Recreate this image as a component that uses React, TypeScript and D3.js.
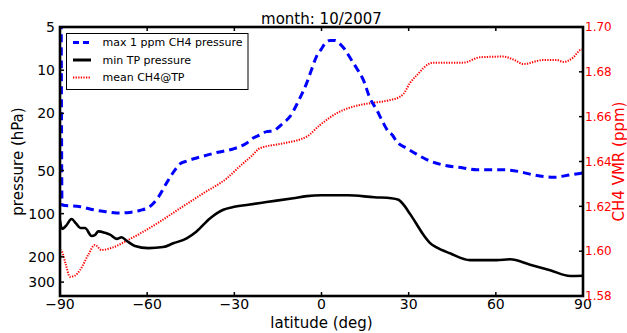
import React from "react";
import * as d3 from "d3";

const title = "month: 10/2007";
const xTicks = [-90, -60, -30, 0, 30, 60, 90];
const pTicks = [5, 10, 20, 50, 100, 200, 300];
const cTicks = [1.58, 1.6, 1.62, 1.64, 1.66, 1.68, 1.7];

const latMax1ppm = [-89.6, -89.3, -83, -78.5, -74, -70.5, -66, -62.5, -59, -56.2, -53.3, -50.4, -48.7, -46.4, -41.8, -36, -30.4, -28.1, -25.8, -23.5, -21.2, -18.9, -16.6, -14.3, -12.5, -10.9, -8, -5.1, -3.5, -1.7, 0, 1.2, 3, 4.6, 6.5, 8.1, 10, 12.1, 14.4, 16.7, 19, 21.3, 23, 24.5, 25.9, 29.3, 32.7, 36.2, 41.9, 48.8, 53.4, 62.6, 68.3, 72.9, 79.8, 85.5, 90];
const pMax1ppm = [3, 87, 89.5, 94, 97, 99, 98, 95, 89, 77, 61, 49.5, 45, 43, 40.3, 37.5, 35.4, 34.1, 32.3, 29.7, 28.3, 26.8, 26.5, 24.5, 22.8, 21.1, 16.5, 12.3, 10, 8, 7.1, 6.5, 6.2, 6.2, 6.6, 7.2, 8.3, 9.7, 11.7, 15.7, 18.9, 23.4, 26.8, 28.5, 31.5, 35, 38.5, 42, 45.8, 48, 49.5, 49.5, 51, 53.7, 55.8, 53.7, 52];

const latMinTP = [-90, -89.3, -88, -86, -84.5, -83, -81.4, -79.1, -78, -76.8, -74.5, -72.8, -70.5, -68.8, -67, -64.2, -59.6, -54.5, -51, -46.4, -43, -38.4, -33.8, -30.4, -25.8, -18.9, -9.7, -5.1, 0, 9, 18.2, 24, 26.5, 28.5, 30.4, 32.7, 35, 37.3, 39.6, 44.2, 51.1, 60.3, 64.9, 71.8, 78.7, 85.6, 90];
const pMinTP = [112, 128, 122, 109, 117, 126, 126, 143, 141, 133, 136, 140, 150, 146, 155, 168, 174, 171, 161, 148.5, 133, 108, 94, 90, 87, 83, 78, 75.5, 74.5, 74.5, 76.9, 78, 80, 88, 100, 118, 140, 160, 172, 189, 211, 211, 208, 227, 248, 272, 271];

const latCH4 = [-90, -89.4, -88, -86.6, -85, -83.1, -80.3, -78, -75.7, -73.5, -71.7, -67, -61.3, -55.6, -48.7, -40.7, -32.6, -28, -24, -21.2, -13.2, -5.1, -0.5, 5.2, 10.9, 16.7, 23.6, 27, 28.1, 30.4, 33.9, 35, 38.5, 48.8, 54.6, 62.6, 66, 69.5, 76.4, 80.9, 83.3, 86.7, 89, 90];
const vCH4 = [1.6005, 1.6, 1.594, 1.5886, 1.589, 1.5916, 1.5983, 1.6028, 1.6005, 1.601, 1.6017, 1.6047, 1.6087, 1.6132, 1.6191, 1.6258, 1.6325, 1.638, 1.6425, 1.6459, 1.6481, 1.6511, 1.6563, 1.6615, 1.6645, 1.666, 1.6674, 1.6689, 1.67, 1.6749, 1.68, 1.6816, 1.6841, 1.6841, 1.6865, 1.6868, 1.6855, 1.6835, 1.6853, 1.6853, 1.6844, 1.6865, 1.6897, 1.69];

const legendLabels = ["max 1 ppm CH4 pressure", "min TP pressure", "mean CH4@TP"];

const FONT = "'DejaVu Sans', sans-serif";

export default function App() {
  const L = 60, R = 583, T = 27, B = 296;
  const x = d3.scaleLinear().domain([-90, 90]).range([L, R]);
  const yP = d3.scaleLog().domain([5, 375]).range([T, B]);
  const yC = d3.scaleLinear().domain([1.58, 1.7]).range([B, T]);

  const lineP = d3.line<[number, number]>().x(d => x(d[0])).y(d => yP(d[1])).curve(d3.curveMonotoneX);
  const lineC = d3.line<[number, number]>().x(d => x(d[0])).y(d => yC(d[1])).curve(d3.curveMonotoneX);

  const blue = lineP(latMax1ppm.map((l, i) => [l, pMax1ppm[i]] as [number, number])) || "";
  const black = lineP(latMinTP.map((l, i) => [l, pMinTP[i]] as [number, number])) || "";
  const red = lineC(latCH4.map((l, i) => [l, vCH4[i]] as [number, number])) || "";

  const legendStyles = [
    { stroke: "#0000ff", width: 3, dash: "6,4" },
    { stroke: "#000000", width: 3, dash: undefined },
    { stroke: "#ff0000", width: 2, dash: "1.3,1.3" },
  ];

  return (
    <svg width={627} height={333} style={{ position: "fixed", left: 0, top: 0, display: "block", background: "#fff" }} fontFamily={FONT}>
      <defs>
        <clipPath id="plot">
          <rect x={L} y={T} width={R - L} height={B - T} />
        </clipPath>
      </defs>
      <rect x={0} y={0} width={627} height={333} fill="#fff" />
      <g clipPath="url(#plot)">
        <path d={red} fill="none" stroke="#ff0000" strokeWidth={2} strokeDasharray="1.3,1.3" />
        <path d={blue} fill="none" stroke="#0000ff" strokeWidth={3} strokeDasharray="8,5" />
        <path d={black} fill="none" stroke="#000" strokeWidth={2.6} strokeLinejoin="round" />
      </g>
      {xTicks.map(t => (
        <g key={"x" + t}>
          <line x1={x(t)} x2={x(t)} y1={B} y2={B - 4} stroke="#000" strokeWidth={1.5} />
          <line x1={x(t)} x2={x(t)} y1={T} y2={T + 4} stroke="#000" strokeWidth={1.5} />
          <text x={x(t)} y={309} fontSize={14} textAnchor="middle" fill="#000">
            {t < 0 ? "\u2212" + Math.abs(t) : String(t)}
          </text>
        </g>
      ))}
      {pTicks.map(t => (
        <g key={"p" + t}>
          <line x1={L} x2={L + 4} y1={yP(t)} y2={yP(t)} stroke="#000" strokeWidth={1.5} />
          <text x={55} y={yP(t)} dy="0.36em" fontSize={14} textAnchor="end" fill="#000">{t}</text>
        </g>
      ))}
      {cTicks.map(t => (
        <g key={"c" + t}>
          <line x1={R - 4} x2={R} y1={yC(t)} y2={yC(t)} stroke="#000" strokeWidth={1.5} />
          <text x={585} y={yC(t)} dy="0.36em" fontSize={12} textAnchor="start" fill="#ff0000">{t.toFixed(2)}</text>
        </g>
      ))}
      <rect x={L} y={T} width={R - L} height={B - T} fill="none" stroke="#000" strokeWidth={2.6} />
      <g>
        <rect x={66.5} y={33.5} width={181.5} height={56} fill="#fff" stroke="#000" strokeWidth={1} />
        {legendLabels.map((lab, i) => {
          const yy = 42.5 + i * 17.5;
          const s = legendStyles[i];
          return (
            <g key={lab}>
              <line x1={73} x2={91} y1={yy} y2={yy} stroke={s.stroke} strokeWidth={s.width} strokeDasharray={s.dash} />
              <text x={102.5} y={yy} dy="0.36em" fontSize={11} fill="#000">{lab}</text>
            </g>
          );
        })}
      </g>
      <text x={321.5} y={24} fontSize={15} textAnchor="middle" fill="#000">{title}</text>
      <text x={321.5} y={327.5} fontSize={15} textAnchor="middle" fill="#000">latitude (deg)</text>
      <text transform={`translate(23,${(T + B) / 2}) rotate(-90)`} fontSize={15} textAnchor="middle" fill="#000">pressure (hPa)</text>
      <text transform={`translate(624,${(T + B) / 2}) rotate(-90)`} fontSize={15} textAnchor="middle" fill="#ff0000">CH4 VMR (ppm)</text>
    </svg>
  );
}
